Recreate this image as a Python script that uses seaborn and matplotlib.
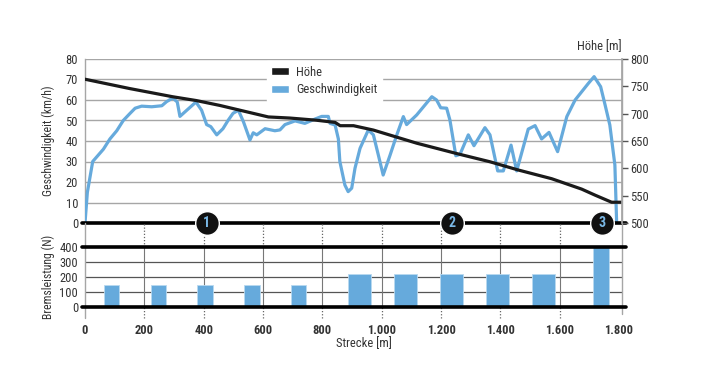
import numpy as np
import pandas as pd
import matplotlib
matplotlib.use('Agg')
import matplotlib.pyplot as plt
from matplotlib.patches import Patch
from matplotlib.ticker import FuncFormatter
import seaborn as sns

# speed profile (m, km/h)
dist_speed = [0, 8, 26, 62, 84, 107, 129, 152, 169, 191, 225, 259, 275, 296, 311, 320,
              343, 374, 393, 410, 424, 444, 465, 482, 499, 517, 534, 556, 567, 579, 607,
              640, 657, 674, 708, 741, 775, 798, 820, 826, 843, 854, 859, 876, 887, 899,
              910, 927, 955, 972, 989, 1005, 1028, 1051, 1073, 1084, 1118, 1169, 1185,
              1199, 1219, 1230, 1250, 1264, 1292, 1311, 1348, 1365, 1391, 1410, 1436,
              1455, 1494, 1517, 1539, 1564, 1593, 1624, 1652, 1674, 1696, 1716, 1738,
              1753, 1769, 1786, 1792]
speed_kmh = [0, 15, 30, 36, 41, 45, 50, 53.5, 56, 57, 56.7, 57.2, 59.2, 61, 59, 52,
             55, 59, 55, 48, 47, 43, 46, 50, 53.5, 55, 49.4, 40.5, 44, 43, 46,
             45, 45.4, 48, 49.8, 48.6, 50.7, 52, 52, 48.6, 47.8, 41, 30, 18.5, 15.3, 17,
             26.7, 36.4, 45.4, 43, 33, 23.4, 33, 43, 51.9, 48, 52.7, 61.6, 60,
             56.2, 56, 50.2, 32.8, 33.5, 43, 37.7, 46.5, 43, 25.4, 25.4, 38,
             25.4, 45.8, 47.5, 41, 44.2, 34.8, 51.9, 60, 64, 68, 71.4, 66.5,
             57.6, 47.8, 28.3, 0]

# altitude profile (m, m)
dist_height = [0, 150, 295, 375, 455, 517, 618, 690, 780, 843, 860, 905, 930, 972,
               1118, 1253, 1365, 1460, 1573, 1674, 1719, 1775, 1810]
height_m = [763, 746, 731, 724, 715, 707, 694, 692, 688, 684, 678, 678, 675, 670,
            646, 627, 612, 597, 581, 562, 551, 538, 538]

# braking segments (start m, end m, force N)
brake_start = [64, 222, 377, 536, 694, 886, 1041, 1196, 1352, 1507, 1712]
brake_end = [115, 273, 431, 590, 745, 964, 1119, 1274, 1429, 1584, 1766]
brake_force = [145, 145, 145, 145, 145, 222, 222, 222, 222, 222, 400]

# numbered points along the track
marker_pos = [410, 1238, 1742]
marker_labels = ['1', '2', '3']

x_ticks = [0, 200, 400, 600, 800, 1000, 1200, 1400, 1600, 1800]

sns.set_theme(style='white')
plt.rcParams['font.family'] = ['Roboto Condensed', 'Liberation Sans Narrow', 'Roboto']

blue = '#66aadc'
grid_c = '#a6a6a6'
txt_c = '#333333'
fs = 9

speed_df = pd.DataFrame({'Strecke': dist_speed, 'Geschwindigkeit': speed_kmh})
height_df = pd.DataFrame({'Strecke': dist_height, 'Höhe': height_m})

fig = plt.figure(figsize=(7.12, 3.73), dpi=100)
ax = fig.add_axes([85 / 712, 150 / 373, 537 / 712, 164 / 373])
axb = fig.add_axes([85 / 712, 66 / 373, 537 / 712, 60 / 373])
xmax = 1810

# top panel: speed
sns.lineplot(data=speed_df, x='Strecke', y='Geschwindigkeit', ax=ax, color=blue,
             lw=2.3, estimator=None, zorder=3)
ax.set_xlim(0, xmax)
ax.set_ylim(0, 80)
ax.set_yticks(range(0, 81, 10))
ax.set_xticks([])
for v in range(10, 81, 10):
    ax.axhline(v, color=grid_c, lw=1, zorder=1)
ax.axhline(0, xmin=-0.006, xmax=1.008, color='black', lw=2.6, zorder=4, clip_on=False)
ax.tick_params(axis='y', length=0, pad=5, labelsize=fs, labelcolor=txt_c)
ax.set_xlabel('')
ax.set_ylabel('Geschwindigkeit (km/h)', fontsize=8.5, color=txt_c)
ax.yaxis.set_label_coords(-0.056, 0.5)
for s in ['top', 'bottom']:
    ax.spines[s].set_visible(False)
for s in ['left', 'right']:
    ax.spines[s].set_color(grid_c)
    ax.spines[s].set_linewidth(1)

# altitude on the right axis
ax2 = ax.twinx()
sns.lineplot(data=height_df, x='Strecke', y='Höhe', ax=ax2, color='#1a1a1a',
             lw=2.3, estimator=None, zorder=2)
ax2.set_ylim(500, 800)
ax2.set_yticks(range(500, 801, 50))
ax2.set_ylabel('')
ax2.tick_params(axis='y', direction='out', length=4, width=1, color='#555555',
                pad=2, labelsize=fs, labelcolor=txt_c)
for s in ['top', 'bottom', 'left']:
    ax2.spines[s].set_visible(False)
ax2.spines['right'].set_color(grid_c)
ax2.text(1.0, 1.035, 'Höhe [m]', transform=ax2.transAxes, ha='right', va='bottom',
         fontsize=fs, color=txt_c)

handles = [Patch(facecolor='#1a1a1a', label='Höhe'),
           Patch(facecolor=blue, label='Geschwindigkeit')]
leg = ax2.legend(handles=handles, loc='upper left', bbox_to_anchor=(0.339, 0.985),
                 frameon=True, fancybox=False, facecolor='white', edgecolor='white',
                 framealpha=1, fontsize=fs, handlelength=1.4, handleheight=0.6,
                 handletextpad=0.6, labelspacing=0.35, borderpad=0.35, borderaxespad=0)
for t in leg.get_texts():
    t.set_color(txt_c)

# numbered markers on the zero line
ax2.scatter(marker_pos, [500] * len(marker_pos), s=290, color='#111111',
            edgecolor='white', linewidth=1, zorder=6, clip_on=False)
for p, lab in zip(marker_pos, marker_labels):
    ax2.text(p, 500, lab, ha='center', va='center', color='#7ab8e6',
             fontweight='bold', fontsize=10, zorder=7, clip_on=False)

# bottom panel: braking force
axb.bar(brake_start, brake_force, width=np.array(brake_end) - np.array(brake_start),
        align='edge', color=blue, edgecolor='#b9d9f0', linewidth=0.6, zorder=3)
axb.set_xlim(0, xmax)
axb.set_ylim(0, 400)
axb.set_yticks(range(0, 401, 100))
axb.set_xticks(x_ticks)
axb.xaxis.set_major_formatter(FuncFormatter(lambda v, p: f'{int(v):,}'.replace(',', '.')))
for v in [100, 200, 300]:
    axb.axhline(v, color='#555555', lw=0.9, zorder=1)
for v in [0, 400]:
    axb.axhline(v, xmin=-0.006, xmax=1.008, color='black', lw=2.6, zorder=4, clip_on=False)
for x in x_ticks[1:-1]:
    axb.axvline(x, color='#777777', lw=0.8, zorder=1)
# dotted tick lines in the gaps
axb.vlines(x_ticks[1:-1], 400, 560, colors='#666666', linestyles=(0, (1, 1.5)),
           lw=0.9, clip_on=False, zorder=1)
axb.vlines(x_ticks[1:-1], -75, 0, colors='#666666', linestyles=(0, (1, 1.5)),
           lw=0.9, clip_on=False, zorder=1)
axb.plot([0, 0], [-75, 560], color=grid_c, lw=1, clip_on=False, zorder=1)
axb.plot([1, 1], [-0.12, 1.4], transform=axb.transAxes, color=grid_c, lw=1,
         clip_on=False, zorder=1)
axb.tick_params(axis='x', length=0, pad=12, labelsize=fs, labelcolor=txt_c)
axb.tick_params(axis='y', length=0, pad=5, labelsize=fs, labelcolor=txt_c)
for t in axb.get_xticklabels():
    t.set_fontweight('bold')
for s in axb.spines.values():
    s.set_visible(False)
axb.set_ylabel('Bremsleistung (N)', fontsize=8.5, color=txt_c)
axb.yaxis.set_label_coords(-0.056, 0.5)
axb.set_xlabel('Strecke [m]', fontsize=fs, color=txt_c, labelpad=1)
axb.xaxis.set_label_coords(0.52, -0.5)

plt.savefig('out.png', dpi=100)
